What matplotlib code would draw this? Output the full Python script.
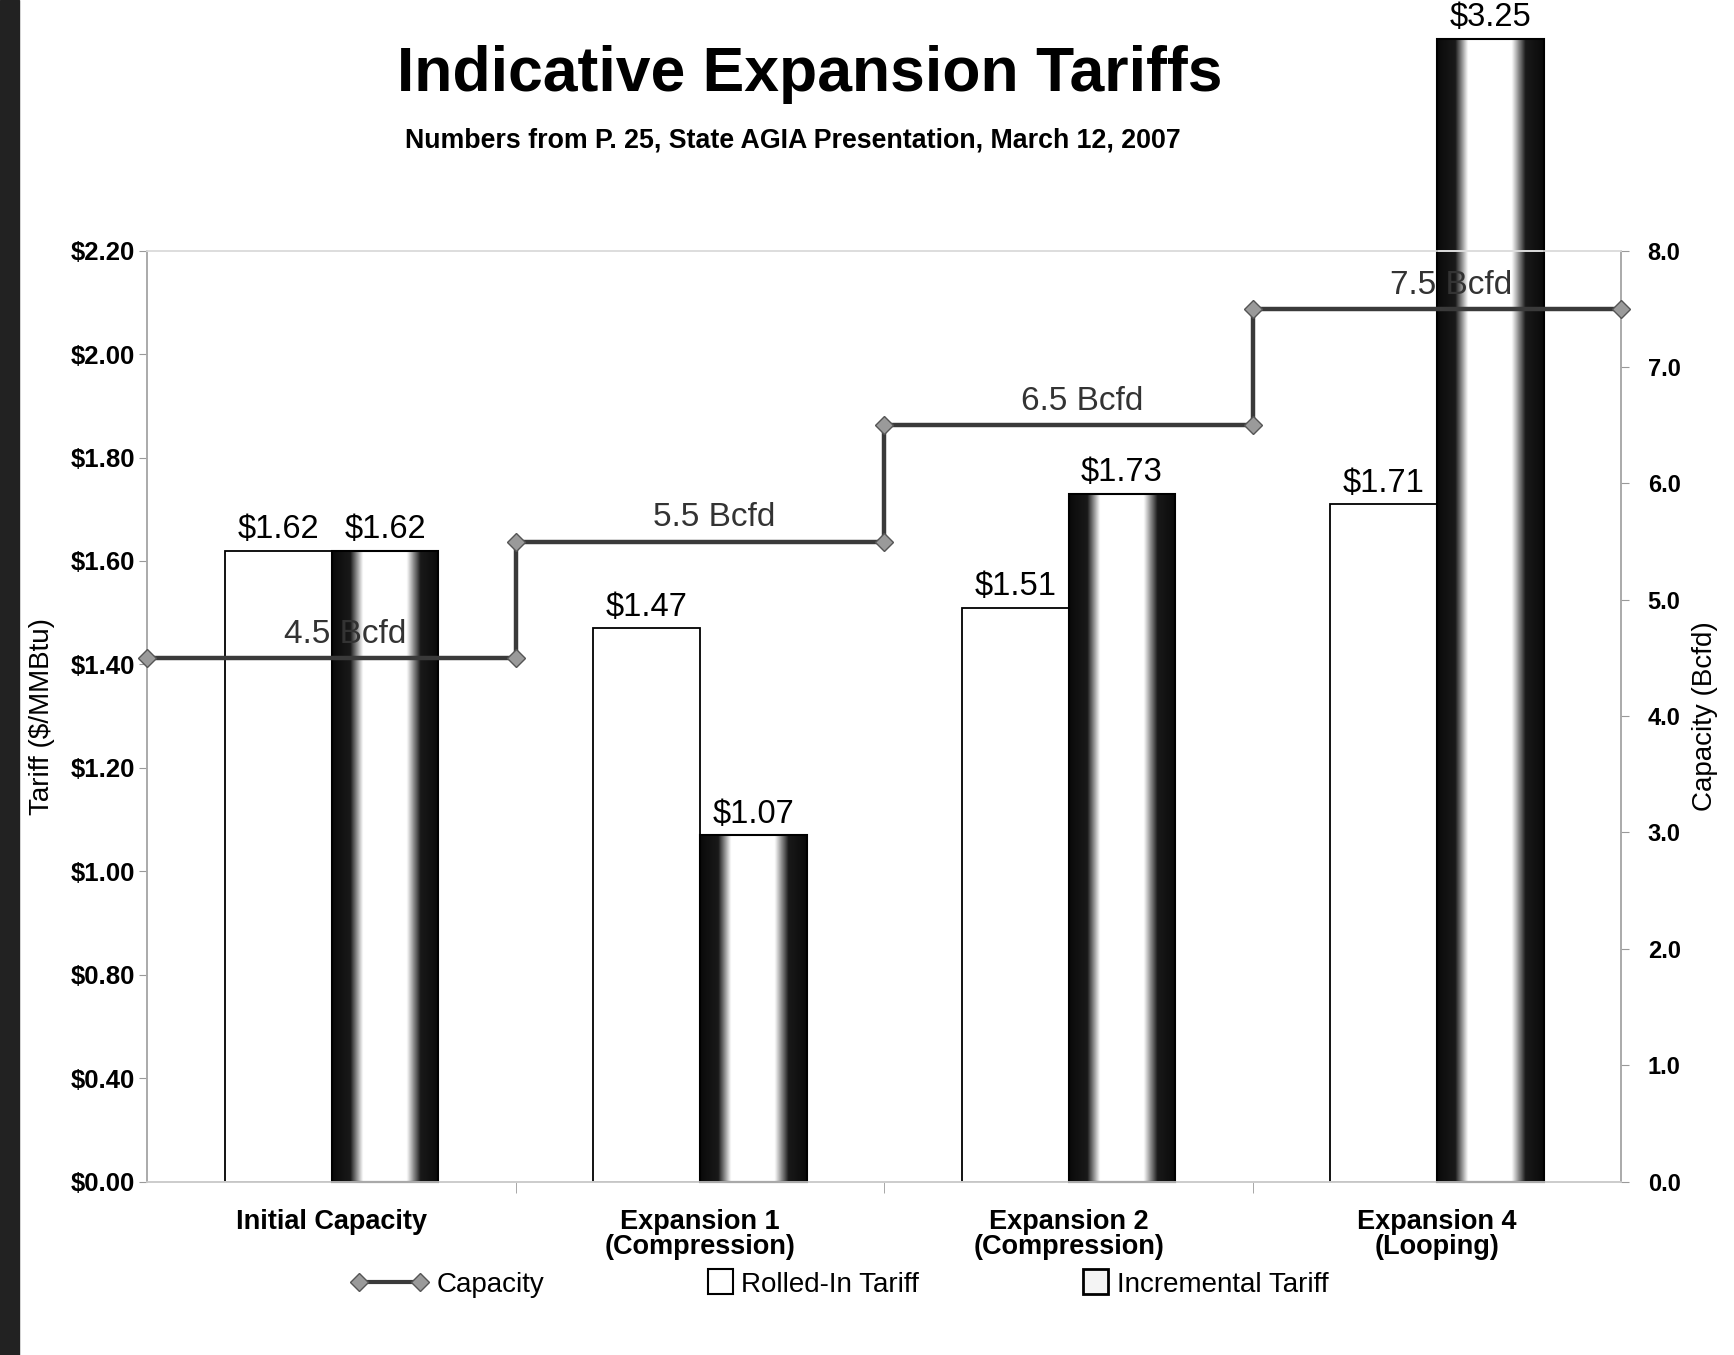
import matplotlib
matplotlib.use("Agg")
import matplotlib.pyplot as plt
import numpy as np
from matplotlib.lines import Line2D
from matplotlib.patches import Patch, Rectangle
from matplotlib.legend_handler import HandlerPatch

plt.rcParams['font.family'] = ['Liberation Sans', 'DejaVu Sans']

# data
categories = ["Initial Capacity", "Expansion 1\n(Compression)",
              "Expansion 2\n(Compression)", "Expansion 4\n(Looping)"]
rolled_in = [1.62, 1.47, 1.51, 1.71]
incremental = [1.62, 1.07, 1.73, 3.25]
capacity = [4.5, 5.5, 6.5, 7.5]  # Bcfd
# left axis tick labels exactly as printed in the source
tariff_ticks = np.arange(0.4, 2.21, 0.2)
tariff_labels = ["$0.00", "$0.40", "$0.80", "$1.00", "$1.20", "$1.40",
                 "$1.60", "$1.80", "$2.00", "$2.20"]
cap_ticks = np.arange(0, 8.1, 1.0)

bar_w = 0.29
y_floor = 0.4
bar_cap = 2.61  # tall bar runs off the top of the plot in the original

fig = plt.figure(figsize=(17.34, 13.55), dpi=100)
ax = fig.add_axes([0.085, 0.128, 0.85, 0.687])
ax2 = ax.twinx()

x = np.arange(len(categories))

# rolled-in: plain white bars
ax.bar(x - bar_w / 2, np.array(rolled_in) - y_floor, bar_w, bottom=y_floor,
       color="white", edgecolor="black", linewidth=1.3, zorder=2)

# incremental: shaded "cylinder" bars
shade = np.interp(np.linspace(0, 1, 200),
                  [0, 0.17, 0.29, 0.70, 0.83, 1],
                  [0.04, 0.1, 1.0, 1.0, 0.1, 0.04])
for xi, v in zip(x + bar_w / 2, incremental):
    h = min(v, bar_cap)
    rect = ax.bar(xi, h - y_floor, bar_w, bottom=y_floor, color="none",
                  edgecolor="black", linewidth=1.5, zorder=3, clip_on=False)[0]
    im = ax.imshow(shade[np.newaxis, :], cmap="gray", vmin=0, vmax=1,
                   extent=[xi - bar_w / 2, xi + bar_w / 2, y_floor, h],
                   aspect="auto", zorder=2.5, interpolation="bilinear",
                   clip_on=False)
    im.set_clip_path(rect)

# value labels
for xi, v in zip(x - bar_w / 2, rolled_in):
    ax.annotate(f"${v:.2f}", (xi, v), xytext=(0, 4), textcoords="offset points",
                ha="center", va="bottom", fontsize=23.5, zorder=5)
for xi, v in zip(x + bar_w / 2, incremental):
    ax.annotate(f"${v:.2f}", (xi, min(v, bar_cap)), xytext=(0, 4),
                textcoords="offset points", ha="center", va="bottom",
                fontsize=23.5, zorder=5, annotation_clip=False)

# capacity step line on right axis
edges = np.arange(len(capacity) + 1) - 0.5
cx = np.repeat(edges, 2)[1:-1]
cy = np.repeat(capacity, 2)
ax2.plot(cx, cy, color="#3a3a3a", lw=3.2, marker="D", markersize=9,
         markerfacecolor="#9a9a9a", markeredgecolor="#555555", zorder=4,
         clip_on=False)
for xi, c in zip(x, capacity):
    ax.annotate(f"{c} Bcfd", (xi, c), xycoords=ax2.transData, xytext=(10, 6),
                textcoords="offset points", ha="center", va="bottom",
                fontsize=24, color="#333333", zorder=3.5)

ax.set_xlim(-0.5, 3.5)
ax.set_ylim(y_floor, 2.2)
ax.set_yticks(tariff_ticks)
ax.set_yticklabels(tariff_labels, fontsize=18.5, fontweight="bold")
ax.set_xticks(x)
ax.set_xticklabels(categories, fontsize=19.5, fontweight="bold", linespacing=0.95)
ax.set_xticks(edges[1:-1], minor=True)
ax.tick_params(axis="x", which="major", length=0, pad=20)
ax.tick_params(axis="x", which="minor", length=8, color="#999999")
ax.tick_params(axis="y", length=6, color="#999999", pad=3)

ax2.set_ylim(0, 8)
ax2.set_yticks(cap_ticks)
ax2.set_yticklabels([f"{t:.1f}" for t in cap_ticks], fontsize=17, fontweight="bold")
ax2.tick_params(axis="y", length=6, color="#999999", pad=13)

for a in (ax, ax2):
    for s in a.spines.values():
        s.set_color("#aaaaaa")
        s.set_linewidth(1.2)
    a.spines["top"].set_color("#dddddd")
    a.spines["bottom"].set_color("#cccccc")

ax.set_ylabel("Tariff ($/MMBtu)", fontsize=20)
ax.yaxis.set_label_coords(-0.063, 0.5)
ax2.set_ylabel("Capacity (Bcfd)", fontsize=20, rotation=90)
ax2.yaxis.set_label_coords(1.048, 0.5)

fig.text(0.467, 0.945, "Indicative Expansion Tariffs", ha="center", va="center",
         fontsize=45, fontweight="bold")
fig.text(0.457, 0.896, "Numbers from P. 25, State AGIA Presentation, March 12, 2007",
         ha="center", va="center", fontsize=19.3, fontweight="bold")


def square_patch(legend, orig_handle, xdescent, ydescent, width, height, fontsize):
    s = height * 1.3
    return Rectangle((width - s - xdescent, -ydescent + (height - s) / 2), s, s)


handles = [
    Line2D([0], [0], color="#3a3a3a", lw=3, marker="D", markersize=9,
           markerfacecolor="#9a9a9a", markeredgecolor="#555555"),
    Patch(facecolor="white", edgecolor="black", linewidth=1.5),
    Patch(facecolor="#f4f4f4", edgecolor="black", linewidth=2.0),
]
fig.legend(handles, ["Capacity", "Rolled-In Tariff", "Incremental Tariff"],
           loc="center", bbox_to_anchor=(0.484, 0.052), ncol=3, frameon=False,
           fontsize=20, numpoints=2, handlelength=2.8, columnspacing=4.0,
           handletextpad=0.3,
           handler_map={Patch: HandlerPatch(patch_func=square_patch)})

# dark scan edge on the left
fig.patches.append(plt.Rectangle((0, 0), 0.011, 1, transform=fig.transFigure,
                                 color="#222222", zorder=0))

fig.savefig("out.png", dpi=100)
